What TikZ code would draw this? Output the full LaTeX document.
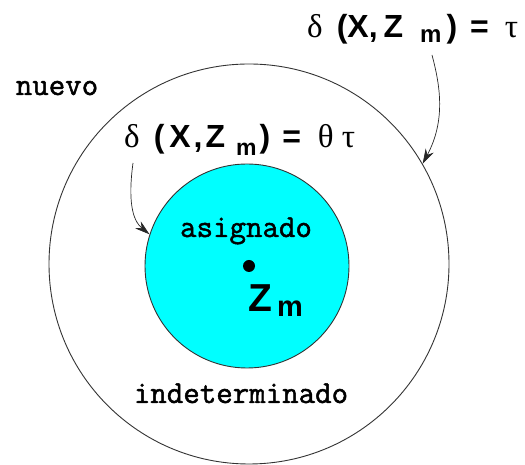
\documentclass[tikz,border=0pt]{standalone}
\usepackage{fontspec}
\setmainfont{Liberation Serif}
\setsansfont{Liberation Sans}
\newfontfamily\zonefont{Latin Modern Mono}[FakeBold=1.5]
\usetikzlibrary{arrows.meta}
\definecolor{aqua}{RGB}{0,255,255}
\newcommand{\grk}{\fontsize{33}{36}\selectfont\rmfamily}
\newcommand{\bsf}{\fontsize{32}{36}\selectfont\sffamily\bfseries}
\newcommand{\subm}[2]{\raisebox{-#2pt}{\fontsize{#1}{26}\selectfont\sffamily\bfseries m}}
\tikzset{
  zone/.style={font=\fontsize{32}{34}\selectfont\zonefont, inner sep=0pt, anchor=base},
  dist/.style={inner sep=0pt, anchor=base west},
  pointer/.style={-{Stealth[length=15pt,width=9pt]}, line width=0.7pt, black!85}
}
\begin{document}
\begin{tikzpicture}[x=1pt, y=1pt]
	\useasboundingbox (0,0) rectangle (525,465);
	\node[circle, draw=black!80, line width=0.9pt, minimum size=400pt, inner sep=0pt] (outer) at (249,201) {};
	\node[circle, draw=black!80, fill=aqua, line width=0.9pt, minimum size=204pt, inner sep=0pt] (inner) at (247,199) {};
	\node[circle, fill=black, minimum size=12pt, inner sep=0pt] (zm) at (249,199) {};
	\node[dist] (zmlbl) at (248,153) {\fontsize{39}{42}\selectfont\sffamily\bfseries Z\hspace{5pt}\raisebox{-5pt}{\fontsize{29}{30}\selectfont m}};
	\node[zone] (nuevo) at (57,370) {nuevo};
	\node[zone] (asig) at (246,228) {asignado};
	\node[zone] (indet) at (241,62) {indeterminado};
	\node[dist] (tau) at (307,427) {{\grk δ}\hspace{14pt}{\bsf (X,\hspace{6pt}Z\hspace{17pt}\subm{24}{5}\hspace{5pt})\hspace{13pt}=}\hspace{16pt}{\grk τ}};
	\node[dist] (thetatau) at (124,317) {{\grk δ}\hspace{14pt}{\bsf (\hspace{5pt}X\hspace{3pt},\hspace{3pt}Z\hspace{11pt}\subm{23}{8}\hspace{3pt})\hspace{12pt}=}\hspace{17pt}{\grk θ\hspace{8pt}τ}};
	\coordinate (tautail) at (432,410);
	\coordinate (thetatail) at (133,302);
	\draw[pointer] (tautail) .. controls (440,380) and (446,345) .. (outer.30.5);
	\draw[pointer] (thetatail) .. controls (128,265) and (132,245) .. (inner.162);
\end{tikzpicture}
\end{document}
